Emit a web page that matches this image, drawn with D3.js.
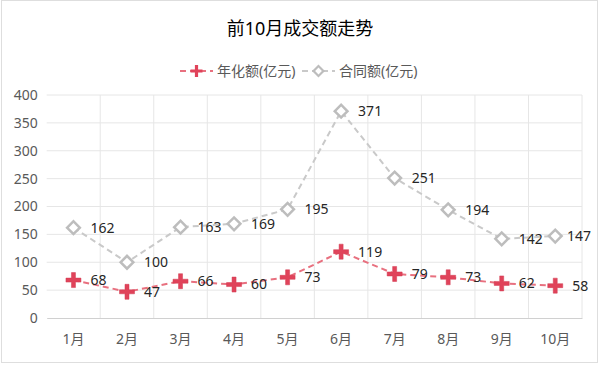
<!DOCTYPE html>
<html><head><meta charset="utf-8">
<script src="https://cdn.jsdelivr.net/npm/d3@7"></script>
<style>body{margin:0;background:#fff;}svg{display:block;font-family:"Noto Sans","Noto Sans CJK SC",sans-serif;}</style>
</head><body><svg id="c" width="600" height="368"></svg>
<script>
const months = ["1月","2月","3月","4月","5月","6月","7月","8月","9月","10月"];
const annualized = [68,47,66,60,73,119,79,73,62,58];
const contract = [162,100,163,169,195,371,251,194,142,147];
const yTicks = [0,50,100,150,200,250,300,350,400];
const seriesNames = ["年化额(亿元)","合同额(亿元)"];
const title = "前10月成交额走势";

const svg = d3.select("#c");
svg.append("rect").attr("x",1.5).attr("y",0.5).attr("width",596).attr("height",362)
  .attr("fill","#fff").attr("stroke","#dedede");

const L=46.7,R=582,T=95,B=318;
const x = d3.scaleBand().domain(months).range([L,R]);
const y = d3.scaleLinear().domain([0,400]).range([B,T]);

// gridlines
svg.append("g").selectAll("line").data(yTicks.slice(1)).join("line")
  .attr("x1",L).attr("x2",R).attr("y1",d=>y(d)).attr("y2",d=>y(d))
  .attr("stroke","#e6e6e6").attr("stroke-width",1);
svg.append("g").selectAll("line").data(months.slice(1).concat(["end"])).join("line")
  .attr("x1",(d,i)=>i<months.length-1?x(d):R).attr("x2",(d,i)=>i<months.length-1?x(d):R)
  .attr("y1",T).attr("y2",B).attr("stroke","#e6e6e6");

// axes
const yAxis = d3.axisLeft(y).tickValues(yTicks).tickSize(0).tickPadding(9);
const gy = svg.append("g").attr("transform",`translate(${L},0)`).call(yAxis);
gy.select(".domain").remove();
gy.selectAll("text").attr("fill","#595959").style("font-size","14px").style("font-family","'Noto Sans',sans-serif");

const xAxis = d3.axisBottom(x).tickSize(0).tickPadding(16);
const gx = svg.append("g").attr("transform",`translate(0,${B})`).call(xAxis);
gx.select(".domain").attr("stroke","#d0d0d0");
gx.selectAll("text").attr("fill","#595959").style("font-size","14px").style("font-family","'Noto Sans','Noto Sans CJK SC',sans-serif");

const cx = d=>x(d)+x.bandwidth()/2;
const line = d3.line().x((d,i)=>cx(months[i])).y(d=>y(d));

// contract series
svg.append("path").datum(contract).attr("d",line).attr("fill","none")
  .attr("stroke","#c9c9c9").attr("stroke-width",2).attr("stroke-dasharray","6,4");
svg.append("g").selectAll("rect").data(contract).join("rect")
  .attr("x",-4.5).attr("y",-4.5).attr("width",9).attr("height",9)
  .attr("transform",(d,i)=>`translate(${cx(months[i])},${y(d)}) rotate(45)`)
  .attr("fill","#fff").attr("stroke","#bdbdbd").attr("stroke-width",2.5);

// annualized series
svg.append("path").datum(annualized).attr("d",line).attr("fill","none")
  .attr("stroke","#e8707f").attr("stroke-width",2).attr("stroke-dasharray","6,4");
const plus = "M-2,-7.5H2V-2H7.5V2H2V7.5H-2V2H-7.5V-2H-2Z";
svg.append("g").selectAll("path").data(annualized).join("path")
  .attr("d",plus).attr("transform",(d,i)=>`translate(${cx(months[i])},${y(d)})`)
  .attr("fill","#e0435a").attr("stroke","#d23a50").attr("stroke-width",0.5);

// labels (kept inside chart area, like the original)
function labels(data){
  svg.append("g").selectAll("text").data(data).join("text")
    .attr("x",(d,i)=>cx(months[i])+17).attr("y",d=>y(d)).attr("dy","0.35em")
    .attr("fill","#262626").style("font-size","14px").style("font-family","'Noto Sans',sans-serif")
    .text(d=>d)
    .each(function(){
      const w=this.getComputedTextLength(); const x0=+this.getAttribute("x");
      if(x0+w>591) this.setAttribute("x",591-w);
    });
}
labels(contract); labels(annualized);

// title
svg.append("text").attr("x",300).attr("y",35).attr("text-anchor","middle")
  .style("font-size","18px").attr("fill","#000").text(title);

// legend
const lg = svg.append("g");
lg.append("line").attr("x1",180).attr("x2",213).attr("y1",71).attr("y2",71)
  .attr("stroke","#e8707f").attr("stroke-width",2).attr("stroke-dasharray","6,4");
lg.append("path").attr("d",plus).attr("transform","translate(196.5,71) scale(0.8)").attr("fill","#e0435a");
lg.append("text").attr("x",217).attr("y",71).attr("dy","0.35em").attr("fill","#595959")
  .style("font-size","14px").text(seriesNames[0]);
lg.append("line").attr("x1",302).attr("x2",335).attr("y1",71).attr("y2",71)
  .attr("stroke","#c9c9c9").attr("stroke-width",2).attr("stroke-dasharray","6,4");
lg.append("rect").attr("x",-3.5).attr("y",-3.5).attr("width",7).attr("height",7)
  .attr("transform","translate(318.5,71) rotate(45)").attr("fill","#fff").attr("stroke","#bdbdbd").attr("stroke-width",2.2);
lg.append("text").attr("x",339).attr("y",71).attr("dy","0.35em").attr("fill","#595959")
  .style("font-size","14px").text(seriesNames[1]);
</script></body></html>
